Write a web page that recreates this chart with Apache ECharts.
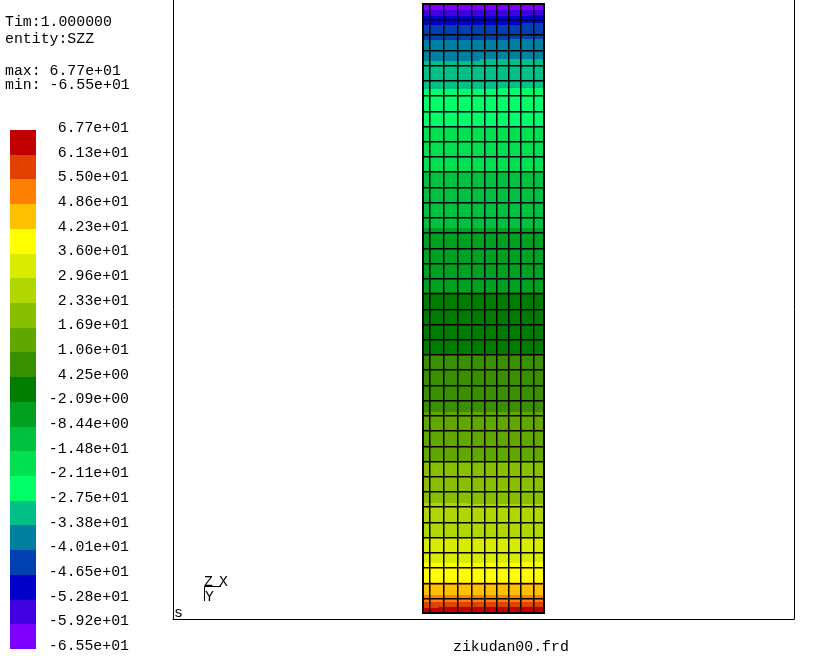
<!DOCTYPE html>
<html>
<head>
<meta charset="utf-8">
<style>html,body{margin:0;padding:0;background:#fff}#c{width:829px;height:666px}</style>
<script src="https://cdn.jsdelivr.net/npm/echarts@6/dist/echarts.min.js"></script>
</head>
<body>
<div id="c"></div>
<script>
// Colour scale, top (max) to bottom (min)
const scaleColors = ['#c00000','#e04000','#ff8000','#ffc000','#ffff00','#d8ec00','#b0d800','#88c000','#60a800','#389000','#007c00','#00a020','#00c040','#00e050','#00ff68','#00c088','#0080a0','#0040b0','#0000c8','#4000e0','#8000ff'];
const scaleLabels = ['6.77e+01','6.13e+01','5.50e+01','4.86e+01','4.23e+01','3.60e+01','2.96e+01','2.33e+01','1.69e+01','1.06e+01','4.25e+00','-2.09e+00','-8.44e+00','-1.48e+01','-2.11e+01','-2.75e+01','-3.38e+01','-4.01e+01','-4.65e+01','-5.28e+01','-5.92e+01','-6.55e+01'];
// Mesh nodes
const meshX = [0,6.3,20,33.7,47.5,60.5,72.7,84.7,97.3,109.7,121];
const meshRows = [0,1,2,3,4,5,6,7,8,9,10,11,12,13,14,15,16,17,18,19,20,21,22,23,24,25,26,27,28,29,30,31,32,33,34,35,36,37,38,39,40];
// Contour boundaries from top down: height left of step, height right of step, x of step
const edgeLeft  = [39.63,39.21,38.62,37.64,36.28,34.42,31.94,28.97,25.29,21.08,17.01,13.20,9.98,7.25,4.99,3.28,2.04,1.18,0.72,0.30];
const edgeRight = [39.60,39.30,38.75,37.70,36.37,34.48,32.00,28.97,25.29,21.08,17.01,13.20,9.98,7.18,4.99,3.35,2.04,1.18,0.72,0.40];
const edgeStepX = [15,105,99,85,57,76,29,60,60,60,60,60,60,45,60,97,60,60,60,16];
const infoLines = ['Tim:1.000000','entity:SZZ','max: 6.77e+01','min: -6.55e+01'];
const fileName = 'zikudan00.frd';

const FONT = '14.85px "Liberation Mono", monospace';
const W = meshX[meshX.length-1], H = meshRows[meshRows.length-1];

// bands painted from the top colour down
const bandData = [[0, W, 0, H, scaleColors.length-1]];
edgeLeft.forEach((e, k) => {
  const ci = scaleColors.length - 2 - k;
  bandData.push([0, edgeStepX[k], 0, e, ci]);
  bandData.push([edgeStepX[k], W, 0, edgeRight[k], ci]);
});
const meshData = [];
meshX.forEach((x, i) => meshData.push([x, 0, x, H, (i === 0 || i === meshX.length-1) ? 2 : 1.5]));
meshRows.forEach((r, i) => meshData.push([0, r, W, r, (i === 0 || i === meshRows.length-1) ? 2 : 1.5]));
const legendData = scaleColors.map((c, i) => [i, i + 1]);

function txt(x, y, s, align) {
  return {type:'text', x:x, y:y, style:{text:s, font:FONT, fill:'#000', textAlign:align||'left', textVerticalAlign:'middle'}, silent:true};
}
function seg(x1,y1,x2,y2){
  return {type:'line', shape:{x1:x1,y1:y1,x2:x2,y2:y2}, style:{stroke:'#000',lineWidth:1}, silent:true};
}
const frameLine = {show:true, onZero:false, lineStyle:{color:'#000', width:1}};
const none = {show:false};

const chart = echarts.init(document.getElementById('c'), null, {renderer:'canvas', devicePixelRatio:1});
chart.setOption({
  animation:false,
  backgroundColor:'#fff',
  grid:[
    {left:173, top:0, width:621, height:619, show:false},
    {left:10, top:130, width:26, height:519, show:false},
    {left:10, top:128, width:26, height:518, show:false}
  ],
  xAxis:[
    {gridIndex:0, type:'value', min:-250, max:371, position:'bottom', axisLine:frameLine, axisTick:none, axisLabel:none, splitLine:none},
    {gridIndex:1, type:'value', min:0, max:1, show:false},
    {gridIndex:2, type:'value', min:0, max:1, show:false}
  ],
  yAxis:[
    {gridIndex:0, type:'value', min:-0.394, max:40.263, position:'left', axisLine:frameLine, axisTick:none, axisLabel:none, splitLine:none},
    {gridIndex:1, type:'value', min:0, max:21, inverse:true, show:false},
    {gridIndex:0, type:'value', min:-0.394, max:40.263, position:'right', axisLine:frameLine, axisTick:none, axisLabel:none, splitLine:none},
    {gridIndex:2, type:'value', min:0, max:21, interval:1, inverse:true, position:'right',
     axisLine:none, axisTick:none, splitLine:none,
     axisLabel:{show:true, align:'right', margin:93, color:'#000', fontFamily:'Liberation Mono', fontSize:14.85,
       showMinLabel:true, showMaxLabel:true, hideOverlap:false, formatter:v => scaleLabels[v]}}
  ],
  series:[
    {type:'custom', xAxisIndex:0, yAxisIndex:0, silent:true, data:bandData, encode:{x:[0,1],y:[2,3]}, z:2,
     renderItem:(p, api) => {
       const a = api.coord([api.value(0), api.value(3)]);
       const b = api.coord([api.value(1), api.value(2)]);
       const x = Math.round(a[0]), y = Math.round(a[1]);
       return {type:'rect', shape:{x:x, y:y, width:Math.round(b[0])-x, height:Math.round(b[1])-y},
               style:{fill:scaleColors[api.value(4)]}};
     }},
    {type:'custom', xAxisIndex:0, yAxisIndex:0, silent:true, data:meshData, encode:{x:[0,2],y:[1,3]}, z:3,
     renderItem:(p, api) => {
       const a = api.coord([api.value(0), api.value(1)]);
       const b = api.coord([api.value(2), api.value(3)]);
       const w = api.value(4);
       const x1 = Math.round(Math.min(a[0], b[0])), x2 = Math.round(Math.max(a[0], b[0]));
       const y1 = Math.round(Math.min(a[1], b[1])), y2 = Math.round(Math.max(a[1], b[1]));
       const o = w === 2 ? 1 : 0;
       const horizontal = y1 === y2;
       return {type:'rect', shape:{
                 x: x1 - o,
                 y: y1 - o,
                 width: horizontal ? (x2 - x1 + 2 * o) : w,
                 height: horizontal ? w : (y2 - y1 + 2 * o)},
               style:{fill:'#000'}};
     }},
    {type:'custom', xAxisIndex:1, yAxisIndex:1, silent:true, data:legendData, encode:{y:[0,1]}, z:2,
     renderItem:(p, api) => {
       const a = api.coord([0, api.value(0)]);
       const b = api.coord([1, api.value(1)]);
       const y = Math.round(a[1]);
       return {type:'rect', shape:{x:a[0], y:y, width:b[0]-a[0], height:Math.round(b[1])-y},
               style:{fill:scaleColors[p.dataIndex]}};
     }}
  ],
  graphic:[
    txt(5,22,infoLines[0]), txt(5,39,infoLines[1]), txt(5,71,infoLines[2]), txt(5,85,infoLines[3]),
    txt(453,647,fileName),
    txt(174,613,'s'),
    txt(204,582,'Z'), txt(219,582,'X'), txt(205,597,'Y'),
    seg(204.5,586.5,221,586.5), seg(204.5,586.5,204.5,601)
  ]
});
</script>
</body>
</html>
